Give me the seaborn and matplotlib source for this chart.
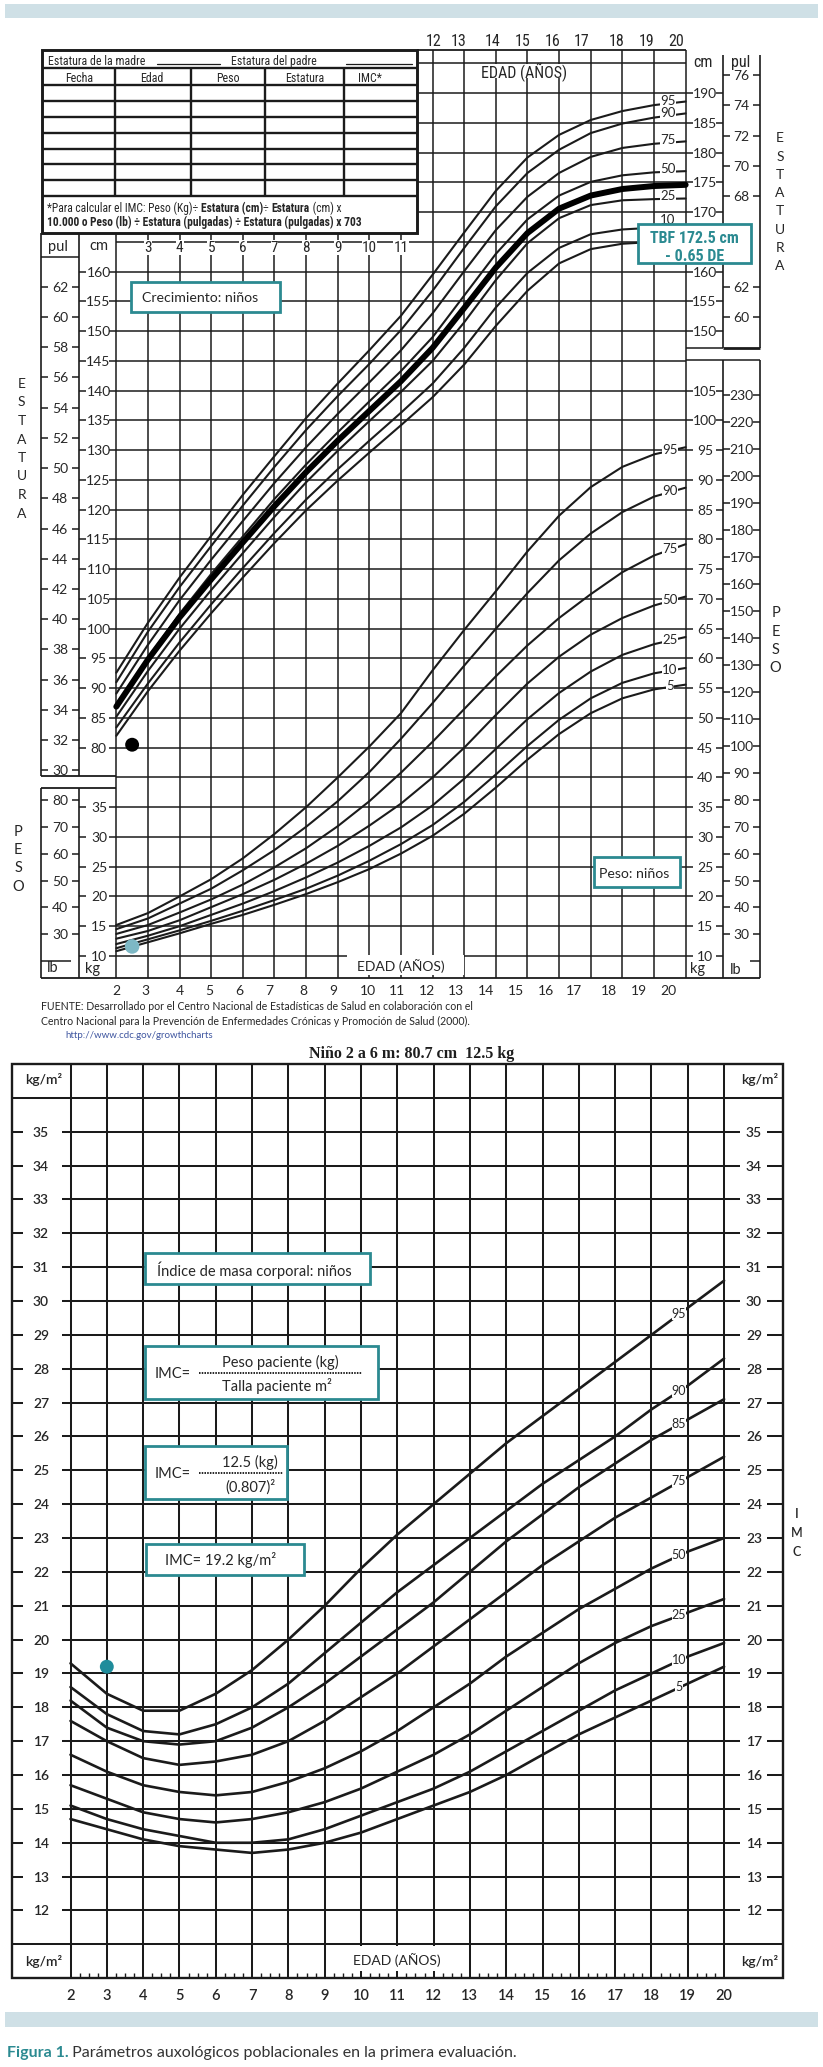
import numpy as np
import pandas as pd
import matplotlib
matplotlib.use("Agg")
import matplotlib.pyplot as plt
from matplotlib.patches import Rectangle
from matplotlib import font_manager
import seaborn as sns

# ============================ DATA ============================
AGES = list(range(2, 21))
PCT_LABELS = ["95", "90", "75", "50", "25", "10", "5"]

STAT_95 = [92.6, 101.0, 108.6, 115.6, 122.5, 129.0, 135.4, 141.2, 146.8, 152.6, 159.5, 166.6, 173.6, 179.2, 183.0, 185.5, 187.0, 188.0, 188.6]
STAT_90 = [91.0, 99.5, 107.0, 113.9, 120.7, 127.2, 133.4, 139.1, 144.5, 150.2, 156.8, 164.0, 171.0, 176.6, 180.5, 183.3, 184.9, 185.9, 186.6]
STAT_75 = [89.1, 97.3, 104.8, 111.6, 118.1, 124.5, 130.5, 136.1, 141.4, 146.8, 153.0, 160.1, 167.0, 172.6, 176.6, 179.3, 180.8, 181.5, 181.9]
STAT_50 = [87.0, 95.1, 102.5, 109.2, 115.5, 121.8, 127.6, 133.0, 138.2, 143.3, 149.0, 156.0, 163.0, 168.8, 172.8, 175.1, 176.2, 176.7, 176.9]
STAT_25 = [85.2, 92.9, 100.0, 106.5, 112.7, 118.8, 124.6, 129.9, 134.9, 139.8, 145.0, 151.5, 158.6, 164.8, 169.0, 171.2, 172.0, 172.2, 172.3]
STAT_10 = [83.4, 90.8, 97.7, 104.1, 110.2, 116.1, 121.7, 126.8, 131.6, 136.3, 141.2, 147.2, 154.0, 159.8, 164.0, 166.3, 167.1, 167.4, 167.5]
STAT_5 = [82.0, 89.5, 96.3, 102.6, 108.6, 114.4, 119.9, 124.9, 129.6, 134.2, 138.9, 144.4, 150.9, 156.8, 161.4, 163.8, 164.7, 165.0, 165.1]
STAT_TARGET = [86.9, 94.8, 101.9, 108.3, 114.5, 120.6, 126.3, 131.6, 136.6, 141.6, 147.2, 153.9, 160.7, 166.5, 170.6, 172.8, 173.9, 174.4, 174.6]

WT_95 = [15.2, 17.2, 20.0, 22.9, 26.4, 30.5, 35.0, 40.0, 45.2, 50.8, 58.0, 64.8, 71.3, 78.0, 84.0, 88.8, 92.2, 94.3, 95.5]
WT_90 = [14.5, 16.3, 18.8, 21.3, 24.4, 27.8, 31.7, 36.0, 40.9, 46.5, 52.5, 58.8, 65.0, 71.0, 76.5, 81.0, 84.6, 87.2, 88.7]
WT_75 = [13.7, 15.2, 17.3, 19.5, 22.0, 24.9, 28.1, 31.8, 36.0, 40.8, 46.0, 51.5, 57.0, 62.2, 66.8, 70.8, 74.5, 77.3, 79.2]
WT_50 = [12.9, 14.2, 16.0, 18.2, 20.4, 22.8, 25.5, 28.5, 31.9, 35.6, 40.0, 45.0, 50.5, 55.8, 60.3, 64.0, 66.8, 68.9, 70.4]
WT_25 = [12.0, 13.4, 15.0, 16.9, 18.8, 20.9, 23.2, 25.7, 28.5, 31.6, 35.3, 39.8, 44.8, 49.8, 54.2, 57.8, 60.6, 62.4, 63.6]
WT_10 = [11.3, 12.8, 14.3, 15.9, 17.6, 19.4, 21.3, 23.5, 26.0, 28.8, 32.0, 35.9, 40.5, 45.3, 49.7, 53.3, 55.9, 57.5, 58.4]
WT_5 = [10.8, 12.3, 13.8, 15.4, 16.9, 18.6, 20.4, 22.4, 24.6, 27.2, 30.2, 33.9, 38.3, 43.0, 47.3, 50.8, 53.3, 54.8, 55.6]

BMI_LABELS = ["95", "90", "85", "75", "50", "25", "10", "5"]
BMI_95 = [19.3, 18.4, 17.9, 17.9, 18.4, 19.1, 20.0, 21.0, 22.1, 23.1, 24.0, 24.9, 25.8, 26.6, 27.4, 28.2, 29.0, 29.8, 30.6]
BMI_90 = [18.6, 17.8, 17.3, 17.2, 17.5, 18.0, 18.7, 19.6, 20.5, 21.4, 22.2, 23.0, 23.8, 24.6, 25.3, 26.0, 26.8, 27.5, 28.3]
BMI_85 = [18.2, 17.4, 17.0, 16.9, 17.0, 17.4, 18.0, 18.7, 19.5, 20.3, 21.1, 22.0, 22.9, 23.7, 24.5, 25.2, 25.9, 26.5, 27.1]
BMI_75 = [17.6, 17.0, 16.5, 16.3, 16.4, 16.6, 17.0, 17.6, 18.3, 19.0, 19.8, 20.6, 21.4, 22.2, 22.9, 23.6, 24.2, 24.8, 25.4]
BMI_50 = [16.6, 16.1, 15.7, 15.5, 15.4, 15.5, 15.8, 16.2, 16.7, 17.3, 18.0, 18.7, 19.5, 20.2, 20.9, 21.5, 22.1, 22.6, 23.0]
BMI_25 = [15.7, 15.3, 14.9, 14.7, 14.6, 14.7, 14.9, 15.2, 15.6, 16.1, 16.6, 17.2, 17.9, 18.6, 19.3, 19.9, 20.4, 20.8, 21.2]
BMI_10 = [15.1, 14.7, 14.4, 14.2, 14.0, 14.0, 14.1, 14.4, 14.8, 15.2, 15.6, 16.1, 16.7, 17.3, 17.9, 18.5, 19.0, 19.5, 19.9]
BMI_5 = [14.7, 14.4, 14.1, 13.9, 13.8, 13.7, 13.8, 14.0, 14.3, 14.7, 15.1, 15.5, 16.0, 16.6, 17.2, 17.7, 18.2, 18.7, 19.2]

PATIENT_AGE = 2.5
PATIENT_HEIGHT_CM = 80.5
PATIENT_WEIGHT_KG = 11.6
PATIENT_BMI_AGE = 3.0
PATIENT_BMI = 19.2

LEFT_CM_TICKS = list(range(80, 161, 5))
LEFT_IN_TICKS = list(range(30, 63, 2))
RIGHT_CM_TICKS = [150, 155, 160, 170, 175, 180, 185, 190]   # 165 lies under the TBF box
RIGHT_IN_TICKS = [60, 62, 68, 70, 72, 74, 76]                # 64 and 66 lie under the TBF box
LEFT_KG_TICKS = list(range(10, 36, 5))
LEFT_LB_TICKS = list(range(30, 81, 10))
RIGHT_KG_TICKS = list(range(10, 106, 5))
RIGHT_LB_TICKS = list(range(30, 231, 10))
BMI_TICKS = list(range(12, 36))
TOP_LEFT_AGE_TICKS = list(range(3, 12))
TOP_RIGHT_AGE_TICKS = list(range(12, 21))
BOTTOM_AGE_TICKS = list(range(2, 21))

# ============================ LAYOUT ============================
W, H = 823, 2067
TOP_AGE2_PX, TOP_PX_PER_YR = 116.3, 31.63
TOP_CM160_PX, TOP_PX_PER_CM = 271.7, 5.95
KG_SHIFT = 35
BMI_AGE2_PX, BMI_PX_PER_YR = 70.5, 36.31
BMI35_PX, BMI_PX_PER_UNIT = 1131.7, 33.86
TOP_RIGHT_AGE_LABEL_PX = [433.6, 459, 493, 523, 553, 582, 617, 647, 676]
BOTTOM_AGE_LABEL_PX = [116.3, 145.7, 180.3, 209.3, 239.3, 269.3, 303.3, 333.3, 368.3, 396.7,
                       427, 456, 486, 515.7, 545.7, 574, 609, 639, 668.7]
STAT_LABEL_PY = {"10": 219.5}
STAT_HIDDEN_LABELS = {"5"}

sns.set_theme(style="white")
avail = {f.name for f in font_manager.fontManager.ttflist}


def pick(*names):
    for n in names:
        if n in avail:
            return n
    return "DejaVu Sans"


NAR = pick("Liberation Sans Narrow", "Roboto Condensed", "Roboto")
HUM = pick("Lato", "Open Sans", "DejaVu Sans")
SER = pick("Liberation Serif", "DejaVu Serif")
plt.rcParams["font.family"] = [HUM, "DejaVu Sans"]

INK = "#1b1b1b"
TXT = "#262626"
TEAL = "#2b8a91"
BAR = "#cfe0e6"

fig = plt.figure(figsize=(W / 100, H / 100), dpi=100)
fig.patch.set_facecolor("white")


def px_axes(x0, y0, x1, y1):
    return fig.add_axes([x0 / W, 1 - y1 / H, (x1 - x0) / W, (y1 - y0) / H])


def tx(px):
    return 2 + (px - TOP_AGE2_PX) / TOP_PX_PER_YR


def ty(py):
    return 160 - (py - TOP_CM160_PX) / TOP_PX_PER_CM


def bx(px):
    return 2 + (px - BMI_AGE2_PX) / BMI_PX_PER_YR


def by(py):
    return 35 - (py - BMI35_PX) / BMI_PX_PER_UNIT


def hline(a, y, x0, x1, lw=1.1, z=1, color=INK):
    a.plot([x0, x1], [y, y], color=color, lw=lw, zorder=z, solid_capstyle="butt")


def vline(a, x, y0, y1, lw=1.1, z=1, color=INK):
    a.plot([x, x], [y0, y1], color=color, lw=lw, zorder=z, solid_capstyle="butt")


def fam(f):
    return [f, "DejaVu Sans"]


def long_df(names, series):
    return pd.concat([pd.DataFrame({"pct": n, "age": AGES, "value": s}) for n, s in zip(names, series)],
                     ignore_index=True)


# ---------------------------------------------------------------- growth chart
ax = px_axes(0, 0, W, 1000)
axw = ax.twinx()

for c in range(45, 200, 5):
    hline(ax, c, tx(417.3) if c >= 170 else 2, 20)
for a_ in range(2, 21):
    vline(ax, a_, ty(978.3), ty(50) if a_ >= 12 else ty(233.3))
hline(ax, ty(50), tx(417.3), 20, lw=1.3)

for xp in (41.3, 79):
    vline(ax, tx(xp), ty(776), ty(233.3), lw=1.2)
    vline(ax, tx(xp), ty(978.3), ty(787.7), lw=1.2)
hline(ax, ty(776), tx(41.3), 2, lw=1.3)
hline(ax, ty(787.7), tx(41.3), 2, lw=1.3)
hline(ax, ty(256.7), tx(41.3), tx(79))
for xp in (723.3, 760):
    vline(ax, tx(xp), ty(347.7), ty(55), lw=1.2)
    vline(ax, tx(xp), ty(978.3), ty(360), lw=1.2)
hline(ax, ty(347.7), 20, tx(723.3))
hline(ax, ty(347.7), tx(723.3), tx(760), lw=2)
hline(ax, ty(360), 20, tx(760))
hline(ax, ty(978.3), tx(41.3), tx(760), lw=1.3)


def scale(a, vals, conv, xl, xr, xlab, fs=10, stub=7):
    for v in vals:
        y = conv(v)
        hline(a, y, tx(xl), tx(xl + stub))
        hline(a, y, tx(xr - stub), tx(xr))
        a.text(tx(xlab), y, str(v), ha="center", va="center_baseline", fontsize=fs,
               family=fam(HUM), color=TXT, zorder=5)


in2cm = lambda v: v * 2.54
lb2kg = lambda v: v * 0.45359
ident = lambda v: v
scale(ax, LEFT_IN_TICKS, in2cm, 41.3, 79, 60)
scale(ax, LEFT_CM_TICKS, ident, 79, 116.3, 98.5)
scale(axw, LEFT_LB_TICKS, lb2kg, 41.3, 79, 60)
scale(axw, LEFT_KG_TICKS, ident, 79, 116.3, 99)
hline(axw, lb2kg(20), tx(41.3), tx(71))
scale(ax, RIGHT_CM_TICKS, ident, 685.7, 723.3, 704.5)
scale(ax, RIGHT_IN_TICKS, in2cm, 723.3, 760, 741.7)
scale(axw, RIGHT_KG_TICKS, ident, 685.7, 723.3, 705)
scale(axw, RIGHT_LB_TICKS, lb2kg, 723.3, 760, 741.7)
hline(axw, lb2kg(20), tx(750), tx(760))

stat_series = [STAT_95, STAT_90, STAT_75, STAT_50, STAT_25, STAT_10, STAT_5]
wt_series = [WT_95, WT_90, WT_75, WT_50, WT_25, WT_10, WT_5]
sns.lineplot(data=long_df(PCT_LABELS, stat_series), x="age", y="value", units="pct", estimator=None,
             color=INK, lw=1.5, legend=False, ax=ax, zorder=3)
sns.lineplot(x=AGES, y=STAT_TARGET, color="black", lw=4.3, ax=ax, zorder=3.5, estimator=None)
sns.lineplot(data=long_df(PCT_LABELS, wt_series), x="age", y="value", units="pct", estimator=None,
             color=INK, lw=1.5, legend=False, ax=axw, zorder=3)

for lab, vals in zip(PCT_LABELS, stat_series):
    if lab in STAT_HIDDEN_LABELS:
        continue
    yy = ty(STAT_LABEL_PY[lab]) if lab in STAT_LABEL_PY else np.interp(tx(668), AGES, vals) + 0.6
    ax.text(tx(668), yy, lab, ha="center", va="center_baseline",
            fontsize=9.5, family=fam(HUM), color=TXT, zorder=4,
            bbox=dict(fc="white", ec="none", pad=0.2))
for lab, vals in zip(PCT_LABELS, wt_series):
    axw.text(tx(670), np.interp(tx(670), AGES, vals) + 0.3, lab, ha="center", va="center_baseline",
             fontsize=9.5, family=fam(HUM), color=TXT, zorder=4,
             bbox=dict(fc="white", ec="none", pad=0.2))

sns.scatterplot(x=[PATIENT_AGE], y=[PATIENT_HEIGHT_CM], s=100, color="black", edgecolor="none",
                ax=ax, zorder=6, legend=False)
sns.scatterplot(x=[PATIENT_AGE], y=[PATIENT_WEIGHT_KG], s=110, color="#7db8c5", edgecolor="none",
                ax=axw, zorder=6, legend=False)

# age labels
for a_ in TOP_LEFT_AGE_TICKS:
    ax.text(a_, ty(246), str(a_), ha="center", va="center_baseline", fontsize=11, family=fam(NAR),
            color=TXT, zorder=4, bbox=dict(fc="white", ec="none", pad=0.15))
for a_, px in zip(TOP_RIGHT_AGE_TICKS, TOP_RIGHT_AGE_LABEL_PX):
    ax.text(tx(px), ty(39.5), str(a_), ha="center", va="center_baseline", fontsize=11.5,
            family=fam(NAR), color=TXT, zorder=4)
for a_, px in zip(BOTTOM_AGE_TICKS, BOTTOM_AGE_LABEL_PX):
    ax.text(tx(px), ty(990), str(a_), ha="center", va="center_baseline", fontsize=10,
            family=fam(HUM), color=TXT, zorder=4)

ax.add_patch(Rectangle((tx(467), ty(78.3)), tx(580) - tx(467), ty(64.5) - ty(78.3), fc="white",
                       ec="none", zorder=2))
ax.text(tx(524), ty(71), "EDAD (AÑOS)", ha="center", va="center_baseline", fontsize=11.5,
        family=fam(NAR), color=TXT, zorder=4)
ax.add_patch(Rectangle((tx(347), ty(975)), tx(464) - tx(347), ty(955) - ty(975), fc="white",
                       ec="none", zorder=2))
ax.text(tx(401), ty(965), "EDAD (AÑOS)", ha="center", va="center_baseline", fontsize=10,
        family=fam(HUM), color=TXT, zorder=4)

for s, px, py in [("pul", 57.5, 245), ("cm", 98.5, 245), ("lb", 53, 967), ("kg", 92.5, 968),
                  ("kg", 698, 968), ("lb", 736, 968)]:
    ax.text(tx(px), ty(py), s, ha="center", va="center_baseline", fontsize=10.5, family=fam(HUM),
            color=TXT, zorder=4)
for s, px in [("cm", 703), ("pul", 741)]:
    ax.text(tx(px), ty(61), s, ha="center", va="center_baseline", fontsize=11.5, family=fam(NAR),
            color=TXT, zorder=4, bbox=dict(fc="white", ec="none", pad=0.1))

for i, ch in enumerate("ESTATURA"):
    ax.text(tx(21.7), ty(383 + i * 18.5), ch, ha="center", va="center_baseline", fontsize=10,
            family=fam(HUM), color=TXT)
    ax.text(tx(780), ty(137.3 + i * 18.25), ch, ha="center", va="center_baseline", fontsize=10,
            family=fam(HUM), color=TXT)
for i, ch in enumerate("PESO"):
    ax.text(tx(18.3), ty(830 + i * 18.5), ch, ha="center", va="center_baseline", fontsize=10.5,
            family=fam(HUM), color=TXT)
    ax.text(tx(775.7), ty(611.7 + i * 18.3), ch, ha="center", va="center_baseline", fontsize=10.5,
            family=fam(HUM), color=TXT)

ax.set_xlim(tx(0), tx(W))
ax.set_ylim(ty(1000), ty(0))
axw.set_ylim(ty(1000) - KG_SHIFT, ty(0) - KG_SHIFT)
ax.axis("off")
axw.axis("off")

# ---------------------------------------------------------------- BMI chart
axb = px_axes(0, 1040, W, 2000)
L, R = bx(11.7), bx(783.3)
BLW = 1.45
for v in range(11, 37):
    if v in (11, 36):
        hline(axb, v, L, R, lw=BLW)
    else:
        hline(axb, v, 2, 20, lw=BLW)
        hline(axb, v, L, bx(23), lw=BLW)
        hline(axb, v, bx(61.7), 2, lw=BLW)
        hline(axb, v, 20, bx(740), lw=BLW)
        hline(axb, v, bx(766.7), R, lw=BLW)
for a_ in range(2, 21):
    vline(axb, a_, 10, 37, lw=BLW)
axb.add_patch(Rectangle((L, 10), R - L, 27, fill=False, ec=INK, lw=1.7, zorder=2))
for q in np.arange(2, 20.001, 0.25):
    if abs(q - round(q)) > 1e-6:
        vline(axb, q, 10, by(1973.3), lw=1.0)

for v in BMI_TICKS:
    axb.text(bx(41), v, str(v), ha="center", va="center_baseline", fontsize=10, family=fam(HUM),
             fontweight="semibold", color=TXT, zorder=4)
    axb.text(bx(754), v, str(v), ha="center", va="center_baseline", fontsize=10, family=fam(HUM),
             fontweight="semibold", color=TXT, zorder=4)
for a_ in BOTTOM_AGE_TICKS:
    axb.text(a_, by(1995), str(a_), ha="center", va="center_baseline", fontsize=10.5,
             family=fam(HUM), fontweight="semibold", color=TXT)
for px, py in [(44, 1078), (760, 1078), (44, 1960), (760, 1960)]:
    axb.text(bx(px), by(py), "kg/m²", ha="center", va="center_baseline", fontsize=10,
             family=fam(HUM), fontweight="semibold", color=TXT, zorder=4)
axb.add_patch(Rectangle((bx(348), by(1971)), bx(448) - bx(348), by(1945.5) - by(1971), fc="white",
                        ec="none", zorder=2))
axb.text(bx(397), by(1959), "EDAD (AÑOS)", ha="center", va="center_baseline", fontsize=10,
         family=fam(HUM), color=TXT, zorder=4)
for i, ch in enumerate("IMC"):
    axb.text(bx(797), by(1513 + i * 19), ch, ha="center", va="center_baseline", fontsize=9,
             family=fam(HUM), fontweight="semibold", color=TXT)

bmi_series = [BMI_95, BMI_90, BMI_85, BMI_75, BMI_50, BMI_25, BMI_10, BMI_5]
sns.lineplot(data=long_df(BMI_LABELS, bmi_series), x="age", y="value", units="pct", estimator=None,
             color=INK, lw=1.9, legend=False, ax=axb, zorder=3)
for lab, vals in zip(BMI_LABELS, bmi_series):
    axb.text(bx(679), np.interp(bx(679), AGES, vals) + 0.05, lab, ha="center", va="center_baseline",
             fontsize=9, family=fam(HUM), color=TXT, zorder=4,
             bbox=dict(fc="white", ec="none", pad=0.1))
sns.scatterplot(x=[PATIENT_BMI_AGE], y=[PATIENT_BMI], s=100, color="#1f8c9b", edgecolor="none",
                ax=axb, zorder=6, legend=False)
axb.set_xlim(bx(0), bx(W))
axb.set_ylim(by(2000), by(1040))
axb.axis("off")

# ---------------------------------------------------------------- page overlay
pg = px_axes(0, 0, W, H)
pg.set_xlim(0, W)
pg.set_ylim(H, 0)
pg.axis("off")
pg.set_zorder(10)

pg.add_patch(Rectangle((5, 4), 813, 13.5, fc=BAR, ec="none"))
pg.add_patch(Rectangle((5, 2012), 813, 15, fc=BAR, ec="none"))

# table
pg.add_patch(Rectangle((42, 50), 375.3, 183.3, fc="white", ec=INK, lw=2.1, zorder=2))
for yy in [68.3, 85, 101, 116.7, 132.7, 148.7, 164.3, 180, 195.7]:
    pg.plot([42, 417.3], [yy, yy], color=INK, lw=1.7, zorder=3, solid_capstyle="butt")
for xx in [115.5, 190.6, 265, 343.8]:
    pg.plot([xx, xx], [68.3, 195.7], color=INK, lw=1.7, zorder=3, solid_capstyle="butt")
pg.text(48.5, 60, "Estatura de la madre", ha="left", va="center_baseline", fontsize=8.6,
        family=fam(NAR), color=TXT, zorder=4)
pg.text(231, 60, "Estatura del padre", ha="left", va="center_baseline", fontsize=8.6,
        family=fam(NAR), color=TXT, zorder=4)
pg.plot([157.5, 220.5], [63.5, 63.5], color=INK, lw=0.9, zorder=4)
pg.plot([346.5, 412], [63.5, 63.5], color=INK, lw=0.9, zorder=4)
for s, xx in [("Fecha", 78.7), ("Edad", 152), ("Peso", 227.8), ("Estatura", 304.4), ("IMC*", 370)]:
    pg.text(xx, 77.5, s, ha="center", va="center_baseline", fontsize=8.6, family=fam(NAR),
            color=TXT, zorder=4)


def chain(x, y, pieces, size, color=TXT):
    prev = pg.text(x, y, pieces[0][0], ha="left", va="center_baseline", fontsize=size,
                   fontweight=pieces[0][1], family=fam(NAR), color=color, zorder=4)
    for s, wgt in pieces[1:]:
        prev = pg.annotate(s, xy=(1, 0), xycoords=prev, ha="left", va="bottom", fontsize=size,
                           fontweight=wgt, family=fam(NAR), color=color, zorder=4)
    return prev


chain(47, 206.5, [("*Para calcular el IMC: Peso (Kg)÷ ", "normal"), ("Estatura (cm)", "bold"),
                  ("÷ ", "normal"), ("Estatura", "bold"), (" (cm) x", "normal")], 8.3)
chain(47, 221, [("10.000 o Peso (lb) ÷ Estatura (pulgadas) ÷ Estatura (pulgadas) x 703", "bold")], 8.3)


def tbox(x0, y0, x1, y1):
    pg.add_patch(Rectangle((x0, y0), x1 - x0, y1 - y0, fc="white", ec=TEAL, lw=2.0, zorder=5))


tbox(130.7, 281.7, 280, 312.3)
pg.text(141.7, 297.5, "Crecimiento: niños", ha="left", va="center_baseline", fontsize=10.2,
        family=fam(HUM), color=TXT, zorder=6)
tbox(638.3, 224, 750.7, 263.3)
pg.text(694.5, 236.7, "TBF 172.5 cm", ha="center", va="center_baseline", fontsize=11.5,
        fontweight="bold", family=fam(NAR), color=TEAL, zorder=6)
pg.text(694.5, 255, "- 0.65 DE", ha="center", va="center_baseline", fontsize=11.5,
        fontweight="bold", family=fam(NAR), color=TEAL, zorder=6)
tbox(594, 856.7, 680, 887.3)
pg.text(598.7, 873.5, "Peso: niños", ha="left", va="center_baseline", fontsize=10.2,
        family=fam(HUM), color=TXT, zorder=6)

tbox(145, 1252.7, 370, 1284)
pg.text(157.3, 1268.5, "Índice de masa corporal: niños", ha="left", va="center_baseline",
        fontsize=10.5, family=fam(HUM), color=TXT, zorder=6)
tbox(145, 1345.7, 378.3, 1399)
pg.text(155, 1372, "IMC=", ha="left", va="center_baseline", fontsize=10.5, family=fam(HUM),
        color=TXT, zorder=6)
pg.text(280, 1361, "Peso paciente (kg)", ha="center", va="center_baseline", fontsize=10.5,
        family=fam(HUM), color=TXT, zorder=6)
pg.plot([199.3, 361.7], [1372.5, 1372.5], color=TXT, lw=1.4, ls=(0, (0.8, 0.6)), zorder=6)
pg.text(276.7, 1384.5, "Talla paciente m²", ha="center", va="center_baseline", fontsize=10.5,
        family=fam(HUM), color=TXT, zorder=6)
tbox(145, 1446, 287.3, 1499.4)
pg.text(155, 1472, "IMC=", ha="left", va="center_baseline", fontsize=10.5, family=fam(HUM),
        color=TXT, zorder=6)
pg.text(250, 1461, "12.5 (kg)", ha="center", va="center_baseline", fontsize=10.5,
        family=fam(HUM), color=TXT, zorder=6)
pg.plot([199.3, 283.3], [1473, 1473], color=TXT, lw=1.4, ls=(0, (0.8, 0.6)), zorder=6)
pg.text(250.7, 1486, "(0.807)²", ha="center", va="center_baseline", fontsize=10.5,
        family=fam(HUM), color=TXT, zorder=6)
tbox(145.7, 1543.7, 304.3, 1574.5)
pg.text(165, 1559, "IMC= 19.2 kg/m²", ha="left", va="center_baseline", fontsize=10.5,
        family=fam(HUM), color=TXT, zorder=6)

# source notes and titles
pg.text(41.3, 1006, "FUENTE: Desarrollado por el Centro Nacional de Estadísticas de Salud en colaboración con el",
        ha="left", va="center_baseline", fontsize=7.6, family=fam(HUM), color=TXT)
pg.text(41.3, 1020.5, "Centro Nacional para la Prevención de Enfermedades Crónicas y Promoción de Salud (2000).",
        ha="left", va="center_baseline", fontsize=7.6, family=fam(HUM), color=TXT)
pg.text(65.6, 1035, "http://www.cdc.gov/growthcharts", ha="left", va="center_baseline", fontsize=7,
        family=fam(HUM), color="#3f56a0")
pg.text(412, 1052, "Niño 2 a 6 m: 80.7 cm  12.5 kg", ha="center", va="center_baseline",
        fontsize=11.5, fontweight="bold", family=fam(SER), color="#1e1e1e")

cap = pg.text(6.7, 2051, "Figura 1.", ha="left", va="center_baseline", fontsize=11.5,
              fontweight="bold", family=fam(HUM), color=TEAL)
pg.annotate(" Parámetros auxológicos poblacionales en la primera evaluación.", xy=(1, 0),
            xycoords=cap, ha="left", va="bottom", fontsize=11.5, family=fam(HUM), color="#333333")

fig.savefig("out.png", dpi=100, facecolor="white")
